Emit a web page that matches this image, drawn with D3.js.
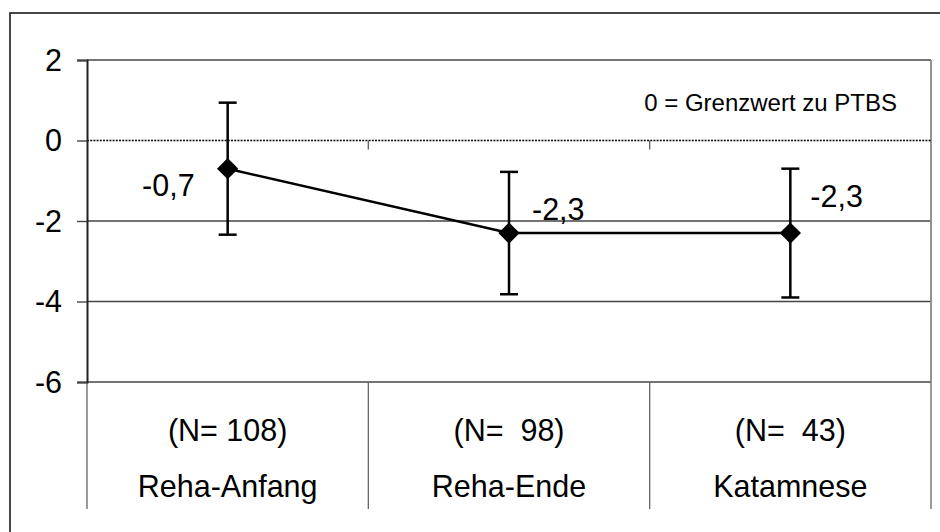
<!DOCTYPE html>
<html>
<head>
<meta charset="utf-8">
<script src="https://cdn.jsdelivr.net/npm/d3@7"></script>
<style>
  html, body { margin: 0; padding: 0; background: #fff; }
  svg { display: block; font-family: "Liberation Sans", Arial, sans-serif; }
</style>
</head>
<body>
<svg id="chart" width="940" height="532"></svg>
<script>
// ---- data ----
const categories = ["Reha-Anfang", "Reha-Ende", "Katamnese"];
const nLabels = ["(N= 108)", "(N=  98)", "(N=  43)"];
const means = [-0.7, -2.3, -2.3];
const errors = [1.64, 1.52, 1.6];
const valueLabels = ["-0,7", "-2,3", "-2,3"];
const yTicks = [2, 0, -2, -4, -6];
const yTickLabels = ["2", "0", "-2", "-4", "-6"];
const note = "0 = Grenzwert zu PTBS";

// ---- layout ----
const svg = d3.select("#chart");
const plot = { left: 87, right: 931, top: 60, bottom: 382 };
const catBottom = 509;
const FS = 30.5;

const x = d3.scaleBand().domain(categories).range([plot.left, plot.right]).padding(0);
const y = d3.scaleLinear().domain([-6, 2]).range([plot.bottom, plot.top]);

function txt(g, tx, ty, str, size, anchor) {
  return g.append("text")
    .attr("x", tx).attr("y", ty)
    .attr("text-anchor", anchor)
    .attr("font-size", size)
    .attr("fill", "#000")
    .style("white-space", "pre")
    .attr("xml:space", "preserve")
    .text(str);
}

// outer border (right/bottom edges fall outside the picture)
svg.append("rect")
  .attr("x", 10).attr("y", 13)
  .attr("width", 960).attr("height", 560)
  .attr("fill", "none").attr("stroke", "#333").attr("stroke-width", 1.8);

// gridlines
svg.append("g").selectAll("line")
  .data(yTicks.filter(d => d !== 0))
  .join("line")
  .attr("x1", plot.left).attr("x2", plot.right)
  .attr("y1", d => y(d)).attr("y2", d => y(d))
  .attr("stroke", "#444").attr("stroke-width", 1.4);

// right plot border
svg.append("line")
  .attr("x1", plot.right).attr("x2", plot.right)
  .attr("y1", plot.top).attr("y2", plot.bottom)
  .attr("stroke", "#888").attr("stroke-width", 1.8);

// dotted zero line
svg.append("line")
  .attr("x1", plot.left).attr("x2", plot.right)
  .attr("y1", y(0)).attr("y2", y(0))
  .attr("stroke", "#000").attr("stroke-width", 1.6)
  .attr("stroke-dasharray", "2 1.2");

// category axis tick marks at the zero line
const inner = categories.slice(1).map(c => x(c));
svg.append("g").selectAll("line")
  .data(inner)
  .join("line")
  .attr("x1", d => d).attr("x2", d => d)
  .attr("y1", y(0)).attr("y2", y(0) + 9)
  .attr("stroke", "#666").attr("stroke-width", 1.4);

// category separator lines below plot
const seps = categories.map(c => x(c)).concat([x(categories[categories.length - 1]) + x.bandwidth()]);
svg.append("g").selectAll("line")
  .data(seps)
  .join("line")
  .attr("x1", d => d).attr("x2", d => d)
  .attr("y1", plot.bottom).attr("y2", catBottom)
  .attr("stroke", "#666").attr("stroke-width", 1.3);

// y axis
const yAxis = d3.axisLeft(y)
  .tickValues(yTicks)
  .tickFormat((d, i) => yTickLabels[i])
  .tickSize(10)
  .tickPadding(15);
const ax = svg.append("g").attr("transform", `translate(${plot.left},0)`).call(yAxis);
ax.select(".domain").attr("stroke", "#222").attr("stroke-width", 2);
ax.selectAll(".tick line").attr("stroke", "#444").attr("stroke-width", 1.4);
ax.selectAll(".tick text")
  .attr("font-size", FS)
  .attr("font-family", "'Liberation Sans', Arial, sans-serif")
  .attr("fill", "#000")
  .attr("dy", "0.33em");

// category labels
const cx = c => x(c) + x.bandwidth() / 2;
categories.forEach((c, i) => {
  txt(svg, cx(c), 441, nLabels[i], FS, "middle");
  txt(svg, cx(c), 497, c, FS, "middle");
});

// note
txt(svg, 897, 111, note, 24, "end");

// error bars
const capW = 9;
const eb = svg.append("g").attr("stroke", "#000").attr("stroke-width", 2.5).attr("fill", "none");
categories.forEach((c, i) => {
  const px = cx(c), hi = y(means[i] + errors[i]), lo = y(means[i] - errors[i]);
  eb.append("line").attr("x1", px).attr("x2", px).attr("y1", hi).attr("y2", lo);
  eb.append("line").attr("x1", px - capW).attr("x2", px + capW).attr("y1", hi).attr("y2", hi);
  eb.append("line").attr("x1", px - capW).attr("x2", px + capW).attr("y1", lo).attr("y2", lo);
});

// mean line
const line = d3.line().x((d, i) => cx(categories[i])).y(d => y(d));
svg.append("path").datum(means)
  .attr("d", line)
  .attr("fill", "none").attr("stroke", "#000").attr("stroke-width", 2.5);

// diamond markers
const diamond = d3.symbol().type(d3.symbolDiamond2).size(290);
svg.append("g").selectAll("path")
  .data(means)
  .join("path")
  .attr("transform", (d, i) => `translate(${cx(categories[i])},${y(d)})`)
  .attr("d", diamond)
  .attr("fill", "#000");

// value labels
const labelOffsets = [[-33, 27, "end"], [23, -13, "start"], [20, -26, "start"]];
means.forEach((m, i) => {
  const [dx, dy, anc] = labelOffsets[i];
  txt(svg, cx(categories[i]) + dx, y(m) + dy, valueLabels[i], FS, anc);
});
</script>
</body>
</html>
